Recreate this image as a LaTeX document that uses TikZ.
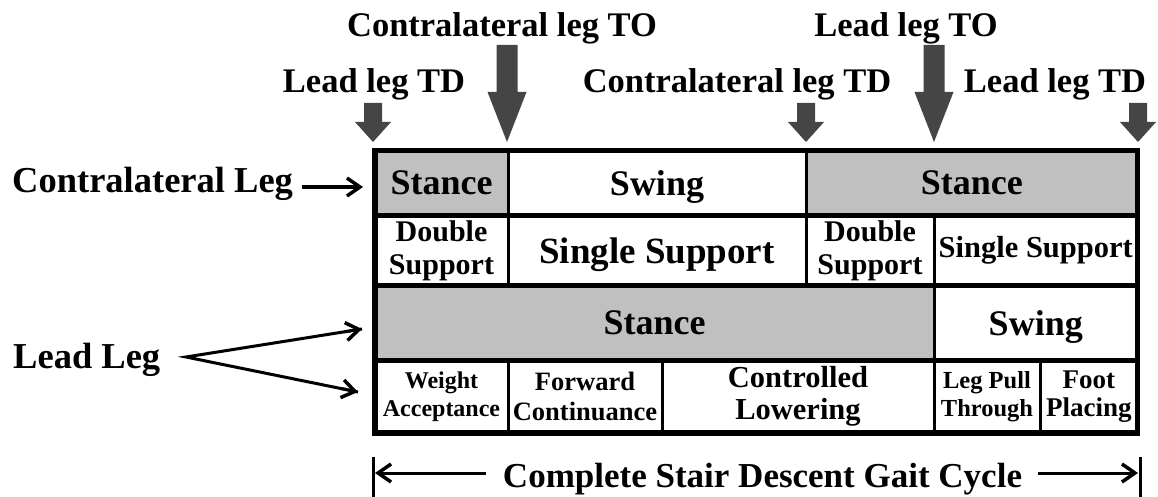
\documentclass[tikz,border=0pt]{standalone}
\usepackage{fontspec}
\setmainfont{Liberation Serif}
\usetikzlibrary{arrows.meta,calc}
\definecolor{cellgray}{HTML}{C0C0C0}
\definecolor{markgray}{HTML}{454545}
\newcommand{\myfs}[2]{\fontsize{#1pt}{#2pt}\selectfont\bfseries}
\newcommand{\mkcell}[7]{%
  \pgfmathsetmacro\cx{(#2+#3)/2}\pgfmathsetmacro\cy{(#4+#5)/2}%
  \pgfmathsetmacro\cw{#3-#2}\pgfmathsetmacro\ch{#5-#4}%
  \node[cellbox,#6,minimum width=\cw pt,minimum height=\ch pt] (#1) at (\cx,\cy) {#7};}
\begin{document}
\begin{tikzpicture}[x=1pt,y=-1pt,
  cellbox/.style={draw=black,line width=3pt,fill=white,inner sep=0pt,outer sep=0pt,align=center},
  grayc/.style={fill=cellgray},
  flat/.style={text depth=0pt},
  toplabel/.style={inner sep=0pt,font=\myfs{34.5}{38},anchor=base},
  sidelabel/.style={inner sep=0pt,font=\myfs{36.5}{40},anchor=base west},
  barb/.style={line width=3pt,-{Straight Barb[length=13pt,width=18pt,line width=3.5pt]}},
  smallmark/.pic={\fill[markgray] (-9,-39) -- (9,-39) -- (9,-20) -- (18,-20) -- (0,0) -- (-18,-20) -- (-9,-20) -- cycle;},
  bigmark/.pic={\fill[markgray] (-10.5,-97) -- (10.5,-97) -- (10.5,-50) -- (19.5,-50) -- (0,0) -- (-19.5,-50) -- (-10.5,-50) -- cycle;}
]
\useasboundingbox (0,0) rectangle (1158,497);
% row 1
\mkcell{c11}{375}{508}{150.5}{215.5}{grayc,flat,font=\myfs{36}{40}}{Stance}
\mkcell{c12}{508}{806}{150.5}{215.5}{flat,font=\myfs{36}{40}}{Swing}
\mkcell{c13}{806}{1137.5}{150.5}{215.5}{grayc,flat,font=\myfs{36}{40}}{Stance}
% row 2
\mkcell{c21}{375}{508}{215.5}{285.5}{font=\myfs{30}{33}}{Double\\Support}
\mkcell{c22}{508}{806}{215.5}{285.5}{flat,font=\myfs{37}{40}}{Single Support}
\mkcell{c23}{806}{934}{215.5}{285.5}{font=\myfs{30}{33}}{Double\\Support}
\mkcell{c24}{934}{1137.5}{215.5}{285.5}{font=\myfs{30.5}{33}}{Single Support}
% row 3
\mkcell{c31}{375}{934}{285.5}{360}{grayc,flat,font=\myfs{36}{40}}{Stance}
\mkcell{c32}{934}{1137.5}{285.5}{360}{flat,font=\myfs{36}{40}}{Swing}
% row 4
\mkcell{c41}{375}{508}{360}{433}{font=\myfs{24}{28}}{Weight\\Acceptance}
\mkcell{c42}{508}{662}{360}{433}{font=\myfs{26.5}{30}}{Forward\\Continuance}
\mkcell{c43}{662}{934}{360}{433}{font=\myfs{30.5}{32}}{Controlled\\Lowering}
\mkcell{c44}{934}{1040}{360}{433}{font=\myfs{24.5}{28}}{Leg Pull\\Through}
\mkcell{c45}{1040}{1137.5}{360}{433}{font=\myfs{27}{28}}{Foot\\Placing}
% thick frame and row dividers
\draw[line width=5.5pt] (c11.north west) rectangle (c45.south east);
\draw[line width=5pt] (c21.north west) -- (c24.north east);
\draw[line width=5pt] (c31.north west) -- (c32.north east);
\draw[line width=5pt] (c41.north west) -- (c45.north east);
% event markers
\pic at (373,142) {smallmark};
\pic at (507,142) {bigmark};
\pic at (806,142) {smallmark};
\pic at (934,142) {bigmark};
\pic at (1138,142) {smallmark};
\node[toplabel] (ltd1) at (374,93) {Lead leg TD};
\node[toplabel] (cto) at (502,37) {Contralateral leg TO};
\node[toplabel] (ctd) at (737,93) {Contralateral leg TD};
\node[toplabel] (lto) at (906,37) {Lead leg TO};
\node[toplabel] (ltd2) at (1055,93) {Lead leg TD};
% side labels
\node[sidelabel] (contra) at (12,193) {Contralateral Leg};
\node[sidelabel] (lead) at (13,368) {Lead Leg};
\coordinate (capex) at (302,187);
\coordinate (ctip) at (363,187);
\draw[barb] (capex) -- (ctip);
\coordinate (apex) at (186,357);
\coordinate (t1) at (362,329);
\coordinate (t2) at (358,392);
\draw[line width=3pt,line join=miter] (t1) -- (apex) -- (t2);
\draw[barb] ($(apex)!0.9!(t1)$) -- (t1);
\draw[barb] ($(apex)!0.9!(t2)$) -- (t2);
% cycle
\coordinate (bl1) at (373,457); \coordinate (bl2) at (373,497);
\coordinate (br1) at (1140,457); \coordinate (br2) at (1140,497);
\draw[line width=3pt] (bl1) -- (bl2);
\draw[line width=3pt] (br1) -- (br2);
\node[inner sep=0pt,anchor=base,font=\myfs{35}{38}] (cyc) at (762.5,487) {Complete Stair Descent Gait Cycle};
\coordinate (la) at (486,473); \coordinate (lb) at (375,473);
\coordinate (ra) at (1038,473); \coordinate (rb) at (1138,473);
\draw[barb] (la) -- (lb);
\draw[barb] (ra) -- (rb);
\end{tikzpicture}
\end{document}
